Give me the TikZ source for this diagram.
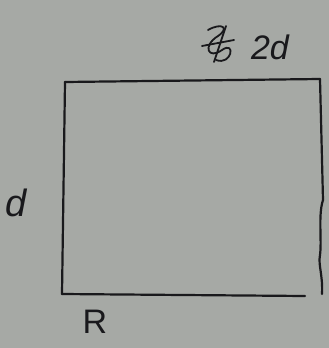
\documentclass[tikz,border=0pt]{standalone}
\usepackage{fontspec}
\setmainfont{Liberation Sans}
\definecolor{paper}{RGB}{166,169,165}
\definecolor{ink}{RGB}{25,25,28}
\begin{document}
\begin{tikzpicture}[x=1pt,y=-1pt,
  pen/.style={draw=ink,line width=2.2pt,line cap=round,line join=round},
  lab/.style={text=ink,font=\fontsize{38}{38}\selectfont\itshape,inner sep=0pt}]
\fill[paper] (0,0) rectangle (329,348);
\useasboundingbox (0,0) rectangle (329,348);
\coordinate (tl) at (65,82);
\coordinate (tr) at (320,79);
\coordinate (br) at (322,294);
\coordinate (bl) at (62,294);
\draw[pen] (tl) -- (tr);
\draw[pen] (tl) -- (bl);
\draw[pen] (bl) -- (305,296);
\draw[pen] (tr) -- (323,200) .. controls (318,215) and (322,240) .. (320,255) .. controls (318,265) and (323,275) .. (br);
\node[lab] (d) at (16,203) {d};
\node[lab,font=\fontsize{34}{34}\selectfont\itshape] (top) at (270,47) {2d};
\node[lab,font=\fontsize{34}{34}\selectfont] (r) at (95,322) {R};
\draw[pen,line width=1.8pt] (208,30) .. controls (222,22) and (230,28) .. (218,36) .. controls (202,46) and (208,60) .. (222,50) .. controls (236,40) and (232,66) .. (216,60);
\draw[pen,line width=1.8pt] (202,46) -- (234,40);
\draw[pen,line width=1.8pt] (226,26) -- (214,62);
\end{tikzpicture}
\end{document}
